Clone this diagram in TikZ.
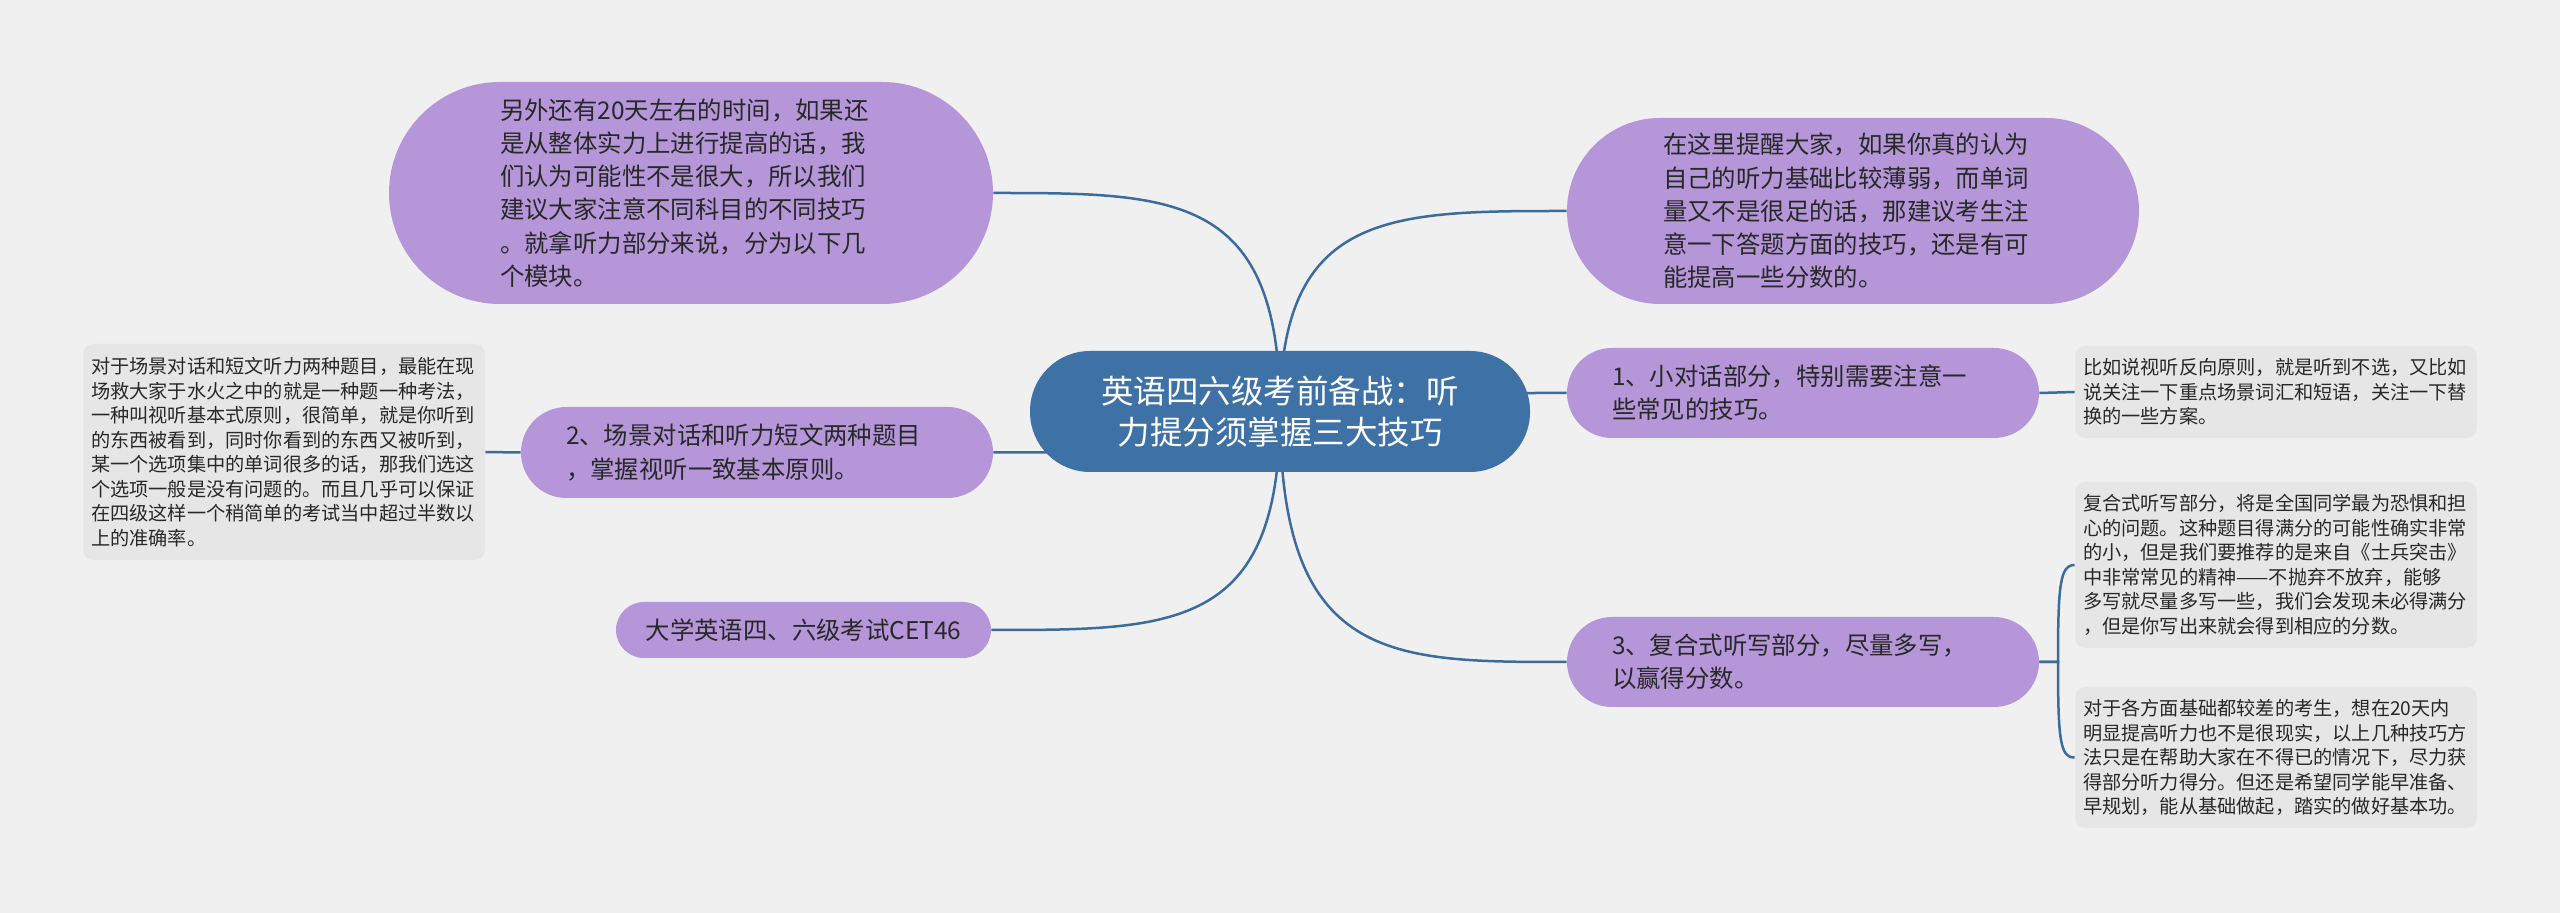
\documentclass[tikz,border=0pt]{standalone}
\usepackage{fontspec}
\newfontfamily\cjk{Noto Sans CJK SC}
\definecolor{bg}{RGB}{240,240,240}
\definecolor{boxgrey}{RGB}{230,230,230}
\definecolor{purp}{RGB}{181,150,216}
\definecolor{cblue}{RGB}{62,114,166}
\definecolor{lineblue}{RGB}{60,108,158}
\definecolor{txt}{RGB}{40,40,40}
\pgfdeclarelayer{bgl}
\pgfdeclarelayer{edges}
\pgfsetlayers{bgl,edges,main}
\tikzset{
  conn/.style={draw=lineblue, line width=1.25pt},
  purpnode/.style={fill=purp, inner sep=0pt, align=left, text=txt, text width=191pt,
    font=\cjk\fontsize{12.2}{16.6}\selectfont},
  greynode/.style={fill=boxgrey, inner sep=0pt, rounded corners=5pt, align=left, text=txt,
    text width=193pt, minimum width=201pt, font=\cjk\fontsize{9.6}{12.25}\selectfont},
  centralnode/.style={fill=cblue, inner sep=0pt, align=center, text=white,
    font=\cjk\fontsize{16.25}{20.85}\selectfont}
}
\begin{document}
\begin{tikzpicture}[x=0.5pt,y=-0.5pt]
\useasboundingbox (0,0) rectangle (2560,913);
\begin{pgfonlayer}{bgl}
\fill[bg] (0,0) rectangle (2560,913);
\end{pgfonlayer}

\node[centralnode, minimum width=250pt, minimum height=60.5pt, rounded corners=30pt] (c) at (1280,411.5)
  {英语四六级考前备战：听\\力提分须掌握三大技巧};

\node[purpnode, minimum width=302pt, minimum height=111pt, rounded corners=55.5pt] (tl) at (691,193)
  {另外还有20天左右的时间，如果还\\是从整体实力上进行提高的话，我\\们认为可能性不是很大，所以我们\\建议大家注意不同科目的不同技巧\\。就拿听力部分来说，分为以下几\\个模块。};

\node[purpnode, text width=190pt, minimum width=286pt, minimum height=93pt, rounded corners=46.5pt] (tr) at (1853,211)
  {在这里提醒大家，如果你真的认为\\自己的听力基础比较薄弱，而单词\\量又不是很足的话，那建议考生注\\意一下答题方面的技巧，还是有可\\能提高一些分数的。};

\node[purpnode, minimum width=236pt, minimum height=45pt, rounded corners=22.5pt] (n1) at (1803,393)
  {1、小对话部分，特别需要注意一\\些常见的技巧。};

\node[purpnode, minimum width=236pt, minimum height=45.5pt, rounded corners=22.75pt] (n2) at (757,452.5)
  {2、场景对话和听力短文两种题目\\，掌握视听一致基本原则。};

\node[purpnode, minimum width=236pt, minimum height=45pt, rounded corners=22.5pt] (n3) at (1803,662)
  {3、复合式听写部分，尽量多写，\\以赢得分数。};

\node[purpnode, text width=170pt, align=center, minimum width=187.5pt, minimum height=28pt, rounded corners=14pt] (cet) at (803.5,630)
  {大学英语四、六级考试CET46};

\node[greynode, minimum height=108pt] (l) at (284,452)
  {对于场景对话和短文听力两种题目，最能在现\\场救大家于水火之中的就是一种题一种考法，\\一种叫视听基本式原则，很简单，就是你听到\\的东西被看到，同时你看到的东西又被听到，\\某一个选项集中的单词很多的话，那我们选这\\个选项一般是没有问题的。而且几乎可以保证\\在四级这样一个稍简单的考试当中超过半数以\\上的准确率。};

\node[greynode, minimum height=46pt] (r1) at (2276,392)
  {比如说视听反向原则，就是听到不选，又比如\\说关注一下重点场景词汇和短语，关注一下替\\换的一些方案。};

\node[greynode, minimum height=83pt] (r2) at (2276,565)
  {复合式听写部分，将是全国同学最为恐惧和担\\心的问题。这种题目得满分的可能性确实非常\\的小，但是我们要推荐的是来自《士兵突击》\\中非常常见的精神——不抛弃不放弃，能够\\多写就尽量多写一些，我们会发现未必得满分\\，但是你写出来就会得到相应的分数。};

\node[greynode, minimum height=70.5pt] (r3) at (2276,757.5)
  {对于各方面基础都较差的考生，想在20天内\\明显提高听力也不是很现实，以上几种技巧方\\法只是在帮助大家在不得已的情况下，尽力获\\得部分听力得分。但还是希望同学能早准备、\\早规划，能从基础做起，踏实的做好基本功。};

\coordinate (j) at (2058,662);

\begin{pgfonlayer}{edges}
\draw[conn] (c.center) .. controls (1280,193) and (1175,193) .. (tl.east);
\draw[conn] (c.center) .. controls (1280,211) and (1390,211) .. (tr.west);
\draw[conn] (c.center) .. controls (1400,393) .. (n1.west);
\draw[conn] (c.center) .. controls (1160,452.5) .. (n2.east);
\draw[conn] (c.center) .. controls (1280,630) and (1175,630) .. (cet.east);
\draw[conn] (c.center) .. controls (1280,662) and (1390,662) .. (n3.west);
\draw[conn] (n2.west) -- (l.east);
\draw[conn] (n1.east) -- (r1.west);
\draw[conn] (n3.east) -- (j) .. controls (2058,585) and (2060,565) .. (r2.west);
\draw[conn] (n3.east) -- (j) .. controls (2058,740) and (2060,757.5) .. (r3.west);
\end{pgfonlayer}
\end{tikzpicture}
\end{document}
